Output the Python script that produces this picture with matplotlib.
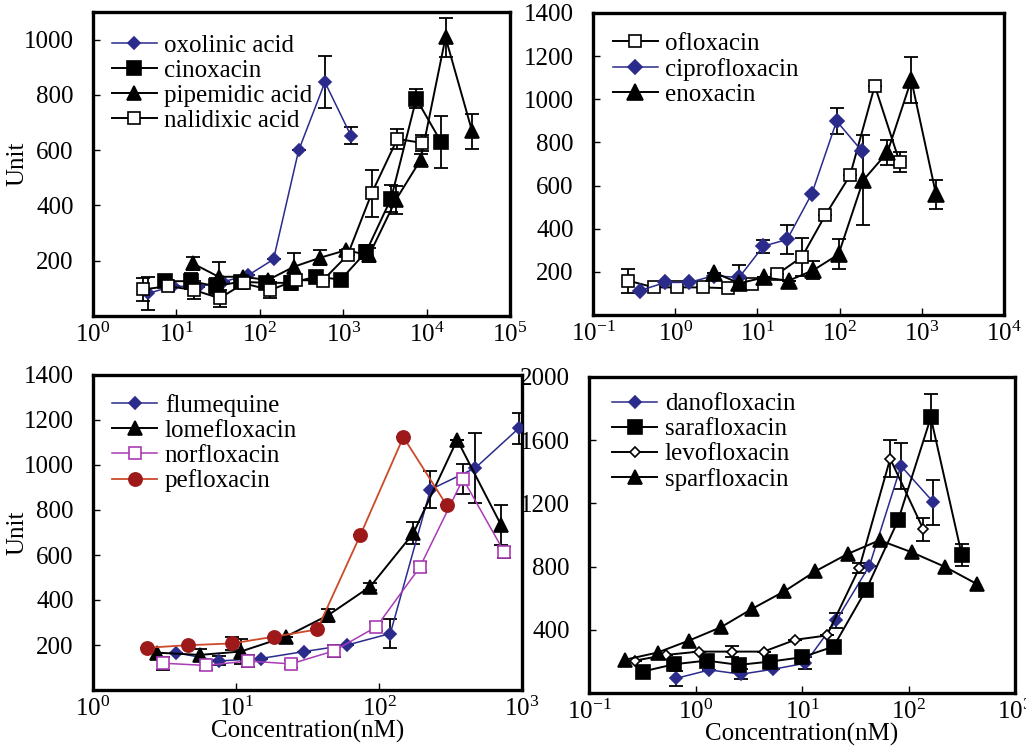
import matplotlib
matplotlib.use("Agg")
import matplotlib.pyplot as plt
from matplotlib.ticker import LogLocator, NullLocator, FixedLocator

plt.rcParams['font.family'] = ['Liberation Serif', 'DejaVu Serif']
plt.rcParams['mathtext.fontset'] = 'stix'

# ---------------- Panel 1 ----------------
oxo_x = [4.6, 9.1, 18.3, 36.5, 73, 146, 292, 604, 1235]
oxo_y = [82, 108, 106, 124, 148, 205, 599, 846, 653]
oxo_e = [60, 0, 0, 0, 0, 0, 0, 94, 31]

cino_x = [7.4, 14.8, 29.5, 58.7, 118, 235, 471, 938, 1883, 3750, 7520, 14970]
cino_y = [126, 126, 108, 124, 120, 120, 142, 132, 232, 425, 786, 629]
cino_e = [0, 30, 30, 0, 0, 25, 0, 0, 25, 50, 35, 95]

pipe_x = [15.8, 32, 63, 125, 255, 531, 1076, 2046, 4256, 8472, 16870, 35150]
pipe_y = [190, 142, 142, 130, 178, 211, 238, 220, 419, 565, 1008, 668]
pipe_e = [24, 52, 0, 0, 50, 28, 0, 25, 50, 20, 71, 63]

nali_x = [4.0, 7.9, 16.3, 33, 64, 134, 272, 566, 1127, 2203, 4460, 8870]
nali_y = [96, 108, 94, 64, 118, 94, 130, 128, 220, 445, 641, 626]
nali_e = [40, 0, 33, 30, 0, 30, 0, 0, 0, 85, 36, 30]

# ---------------- Panel 2 ----------------
oflo_x = [0.27, 0.55, 1.06, 2.16, 4.33, 8.5, 17.4, 34.8, 67.3, 134, 268, 538]
oflo_y = [159, 128, 128, 128, 124, 144, 189, 269, 464, 647, 1063, 708]
oflo_e = [55, 0, 0, 0, 0, 0, 0, 90, 0, 0, 0, 46]

cipro_x = [0.37, 0.76, 1.49, 2.93, 5.99, 11.8, 23, 46, 92, 185]
cipro_y = [113, 151, 151, 182, 174, 319, 350, 563, 899, 762]
cipro_e = [0, 0, 0, 0, 57, 30, 65, 0, 61, 0]

eno_x = [3.0, 6.0, 12, 24, 48, 97, 194, 382, 745, 1490]
eno_y = [197, 147, 174, 159, 208, 281, 625, 754, 1090, 559]
eno_e = [0, 0, 0, 0, 41, 69, 210, 57, 107, 67]

# ---------------- Panel 3 ----------------
flu_x = [3.8, 7.6, 14.9, 30, 60, 120, 229, 472, 948]
flu_y = [166, 129, 140, 171, 200, 251, 891, 987, 1163]
flu_e = [0, 20, 0, 0, 0, 63, 81, 154, 70]

lome_x = [2.8, 5.6, 10.8, 22.3, 44, 87, 174, 352, 713]
lome_y = [166, 156, 171, 237, 332, 460, 697, 1112, 734]
lome_e = [0, 28, 55, 0, 29, 15, 48, 0, 90]

nor_x = [3.1, 6.2, 12.1, 24.2, 48.5, 96, 193, 387, 753]
nor_y = [119, 109, 129, 116, 174, 281, 546, 938, 612]
nor_e = [29, 18, 25, 18, 26, 20, 22, 66, 24]

pef_x = [2.4, 4.6, 9.4, 18.5, 37, 74, 148, 297]
pef_y = [188, 199, 207, 237, 269, 688, 1124, 822]
pef_e = [0, 0, 29, 0, 0, 0, 0, 0]

# ---------------- Panel 4 ----------------
dano_x = [0.66, 1.35, 2.68, 5.31, 10.7, 21, 43, 85, 171]
dano_y = [93, 146, 119, 150, 188, 459, 806, 1437, 1208]
dano_e = [46, 0, 32, 0, 38, 48, 0, 148, 142]

sara_x = [0.32, 0.63, 1.27, 2.55, 5.05, 10, 19.8, 40, 80, 162, 316]
sara_y = [136, 182, 205, 178, 199, 226, 294, 654, 1094, 1744, 876]
sara_e = [0, 0, 0, 0, 0, 0, 25, 0, 0, 148, 70]

levo_x = [0.27, 0.53, 1.07, 2.18, 4.37, 8.66, 17.1, 34.5, 67.3, 138]
levo_y = [205, 241, 262, 262, 262, 337, 364, 791, 1483, 1035]
levo_e = [0, 0, 0, 34, 0, 0, 0, 30, 118, 74]

spar_x = [0.216, 0.44, 0.87, 1.74, 3.4, 6.8, 13.3, 26.8, 53.5, 107, 221, 438]
spar_y = [210, 256, 332, 417, 533, 643, 770, 880, 967, 891, 798, 690]

BLUE = '#2b2b8c'
MAG = '#a93bb5'
RED_LINE = '#cc4a2a'
RED_MK = '#9e1a1a'

FS = 18

fig = plt.figure(figsize=(10.26, 7.46), dpi=100)
W, H = 1026.0, 746.0

def make_ax(l, r, t, b):
    return fig.add_axes([l / W, 1 - b / H, (r - l) / W, (b - t) / H])

ax1 = make_ax(93, 510, 12, 316)
ax2 = make_ax(593, 1004, 13, 315)
ax3 = make_ax(93, 522, 375, 690)
ax4 = make_ax(589, 1015, 377, 693)

def series(ax, x, y, e, label, color, marker, ms, mfc, lw=1.4, mec=None, mew=1.2):
    if e is not None:
        ax.errorbar(x, y, yerr=e, fmt='none', ecolor='black', elinewidth=1.3,
                    capsize=5, capthick=1.3, zorder=2)
    ax.plot(x, y, color=color, lw=lw, marker=marker, ms=ms, mfc=mfc,
            mec=mec if mec else color, mew=mew, label=label, zorder=3)

series(ax1, oxo_x, oxo_y, oxo_e, 'oxolinic acid', BLUE, 'D', 6.5, BLUE, lw=1.1)
series(ax1, cino_x, cino_y, cino_e, 'cinoxacin', 'black', 's', 9.5, 'black')
series(ax1, pipe_x, pipe_y, pipe_e, 'pipemidic acid', 'black', '^', 10, 'black')
series(ax1, nali_x, nali_y, nali_e, 'nalidixic acid', 'black', 's', 8.5, 'white')

series(ax2, oflo_x, oflo_y, oflo_e, 'ofloxacin', 'black', 's', 9, 'white')
series(ax2, cipro_x, cipro_y, cipro_e, 'ciprofloxacin', BLUE, 'D', 7, BLUE, lw=1.1)
series(ax2, eno_x, eno_y, eno_e, 'enoxacin', 'black', '^', 11, 'black')

series(ax3, flu_x, flu_y, flu_e, 'flumequine', BLUE, 'D', 6.5, BLUE, lw=1.1)
series(ax3, lome_x, lome_y, lome_e, 'lomefloxacin', 'black', '^', 10, 'black')
series(ax3, nor_x, nor_y, nor_e, 'norfloxacin', MAG, 's', 8.5, 'white', lw=1.1)
series(ax3, pef_x, pef_y, pef_e, 'pefloxacin', RED_LINE, 'o', 9.5, RED_MK, mec=RED_MK, lw=1.3)

series(ax4, dano_x, dano_y, dano_e, 'danofloxacin', BLUE, 'D', 6.5, BLUE, lw=1.1)
series(ax4, sara_x, sara_y, sara_e, 'sarafloxacin', 'black', 's', 9.5, 'black')
series(ax4, levo_x, levo_y, levo_e, 'levofloxacin', 'black', 'D', 5, 'white')
series(ax4, spar_x, spar_y, None, 'sparfloxacin', 'black', '^', 10, 'black')

cfg = [
    (ax1, (1, 1e5), (0, 1100), [200, 400, 600, 800, 1000], (0.045, 0.927), 5),
    (ax2, (0.1, 1e4), (0, 1400), [200, 400, 600, 800, 1000, 1200, 1400], (0.048, 0.935), 5),
    (ax3, (1, 1e3), (0, 1400), [200, 400, 600, 800, 1000, 1200, 1400], (0.045, 0.94), 5),
    (ax4, (0.1, 1e3), (0, 2000), [400, 800, 1200, 1600, 2000], (0.055, 0.95), 5),
]
for ax, xl, yl, yt, lpos, xpad in cfg:
    ax.set_xscale('log')
    ax.set_xlim(*xl)
    ax.set_ylim(*yl)
    ax.xaxis.set_major_locator(LogLocator(base=10, numticks=20))
    ax.xaxis.set_minor_locator(NullLocator())
    ax.yaxis.set_major_locator(FixedLocator(yt))
    ax.tick_params(direction='in', length=5, width=1, labelsize=FS)
    ax.tick_params(axis='y', pad=14)
    ax.tick_params(axis='x', pad=xpad)
    for s in ax.spines.values():
        s.set_linewidth(2.4)
    ax.legend(loc='upper left', bbox_to_anchor=lpos, frameon=False, fontsize=FS,
              borderpad=0, borderaxespad=0, labelspacing=0.1, handlelength=1.8,
              handletextpad=0.3)

ax1.set_ylabel('Unit', fontsize=FS)
ax1.yaxis.set_label_coords(-0.155, 0.5)
ax3.set_ylabel('Unit', fontsize=FS)
ax3.yaxis.set_label_coords(-0.151, 0.5)
ax3.set_xlabel('Concentration(nM)', fontsize=FS, labelpad=-1)
ax4.set_xlabel('Concentration(nM)', fontsize=FS, labelpad=-1)

fig.savefig('out.png', dpi=100)
